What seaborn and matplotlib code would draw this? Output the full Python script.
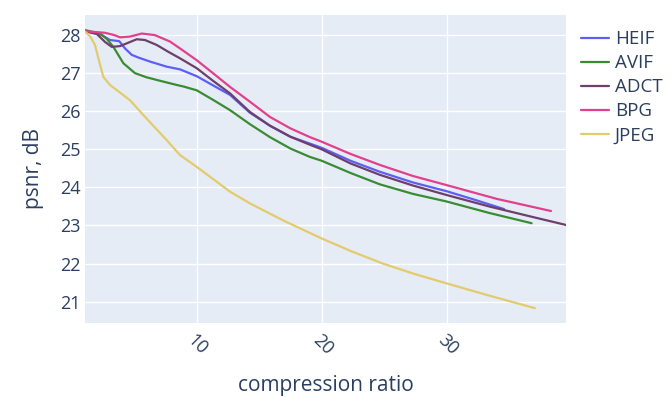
import numpy as np
import pandas as pd
import matplotlib
matplotlib.use("Agg")
import matplotlib.pyplot as plt
import seaborn as sns

codecs = ["HEIF", "AVIF", "ADCT", "BPG", "JPEG"]

heif_x = [1.07, 2.4, 3.06, 3.8, 4.26, 4.8, 5.33, 6.3, 7.6, 8.66, 10, 11.3, 12.66, 14.26, 15.86, 17.5, 19.06, 20, 22.3, 24.66, 27.3, 30, 32.3, 34.6]
heif_y = [28.11, 28.0, 27.87, 27.84, 27.65, 27.48, 27.41, 27.3, 27.17, 27.1, 26.92, 26.68, 26.43, 25.96, 25.62, 25.33, 25.15, 25.04, 24.7, 24.41, 24.13, 23.9, 23.67, 23.43]

avif_x = [1.07, 2.27, 2.8, 3.33, 4.13, 5.06, 6.0, 7.06, 8.4, 8.93, 10, 11.3, 12.66, 14.26, 15.86, 17.5, 19.06, 20, 22.3, 24.66, 27.3, 30, 33.4, 36.8]
avif_y = [28.13, 28.04, 27.9, 27.69, 27.26, 27.0, 26.89, 26.8, 26.69, 26.65, 26.55, 26.3, 26.03, 25.66, 25.32, 25.02, 24.8, 24.7, 24.38, 24.08, 23.83, 23.63, 23.33, 23.06]

adct_x = [1.07, 2.0, 2.66, 3.2, 3.86, 4.53, 5.2, 5.86, 6.8, 7.73, 8.66, 10, 11.3, 12.66, 14.26, 15.86, 17.5, 19.06, 20, 22.3, 24.66, 27.3, 30, 33.4, 36.8, 39.6]
adct_y = [28.1, 28.03, 27.82, 27.69, 27.71, 27.8, 27.89, 27.87, 27.74, 27.56, 27.39, 27.13, 26.8, 26.47, 25.98, 25.62, 25.33, 25.12, 25.0, 24.63, 24.33, 24.05, 23.8, 23.5, 23.23, 23.01]

bpg_x = [1.07, 2.66, 3.4, 3.86, 4.66, 5.6, 6.64, 7.86, 8.66, 10, 11.3, 12.66, 14.26, 15.86, 17.5, 19.06, 20, 22.3, 24.66, 27.3, 30, 34.0, 38.35]
bpg_y = [28.1, 28.06, 28.0, 27.94, 27.96, 28.04, 28.0, 27.83, 27.65, 27.34, 27.0, 26.64, 26.25, 25.85, 25.55, 25.32, 25.2, 24.88, 24.59, 24.3, 24.06, 23.7, 23.38]

jpeg_x = [1.07, 1.5, 1.86, 2.2, 2.53, 3.06, 4.66, 5.73, 7.6, 8.66, 10, 12.66, 14.26, 17, 20, 22.4, 24.9, 27.4, 30, 33.5, 37.06]
jpeg_y = [28.09, 27.95, 27.74, 27.3, 26.9, 26.69, 26.29, 25.9, 25.24, 24.85, 24.54, 23.89, 23.58, 23.12, 22.66, 22.32, 22.0, 21.73, 21.48, 21.15, 20.83]

y_ticks = [21, 22, 23, 24, 25, 26, 27, 28]
x_ticks = [10, 20, 30]

series = {
    "HEIF": (heif_x, heif_y),
    "AVIF": (avif_x, avif_y),
    "ADCT": (adct_x, adct_y),
    "BPG": (bpg_x, bpg_y),
    "JPEG": (jpeg_x, jpeg_y),
}
rows = []
for name in codecs:
    xs, ys = series[name]
    for a, b in zip(xs, ys):
        rows.append({"codec": name, "ratio": a, "psnr": b})
df = pd.DataFrame(rows)

palette = {
    "HEIF": "#5d5df7",
    "AVIF": "#3a8c33",
    "ADCT": "#6e3f6a",
    "BPG": "#e23f8c",
    "JPEG": "#e3cb6c",
}

sns.set_theme(style="darkgrid")
plt.rcParams["font.family"] = ["Open Sans", "DejaVu Sans"]
txt = "#2a3f5f"

fig = plt.figure(figsize=(6.71, 3.97), dpi=100)
ax = fig.add_axes([85 / 671, 1 - 323 / 397, (566 - 85) / 671, (323 - 14.5) / 397])
ax.set_facecolor("#e5ecf6")
for name in codecs:
    sub = df[df.codec == name]
    sns.lineplot(data=sub, x="ratio", y="psnr", sort=False, estimator=None,
                 color=palette[name], linewidth=1.6, ax=ax, label=name)

ax.set_xlim(1.06, 39.55)
ax.set_ylim(20.44, 28.54)
ax.set_xticks(x_ticks)
ax.set_yticks(y_ticks)
ax.grid(True, color="white", linewidth=1.0)
for s in ax.spines.values():
    s.set_visible(False)
ax.tick_params(axis="both", length=0, labelsize=13, colors=txt)
ax.tick_params(axis="y", pad=3)
ax.tick_params(axis="x", pad=6)
for lab in ax.get_xticklabels():
    lab.set_rotation(-45)
    lab.set_ha("left")
    lab.set_va("top")
    lab.set_rotation_mode("anchor")
ax.set_xlabel("compression ratio", fontsize=15, color=txt, labelpad=12)
ax.set_ylabel("psnr, dB", fontsize=15, color=txt, labelpad=12)

if ax.legend_:
    ax.legend_.remove()
handles, labels = ax.get_legend_handles_labels()
fig.legend(handles, labels, loc="upper left", bbox_to_anchor=(573.5 / 671, 1 - 23 / 397),
           frameon=False, fontsize=13.5, labelcolor=txt, handlelength=1.5,
           handletextpad=0.3, labelspacing=0.32, borderaxespad=0)

fig.savefig("out.png", dpi=100, facecolor="white")
